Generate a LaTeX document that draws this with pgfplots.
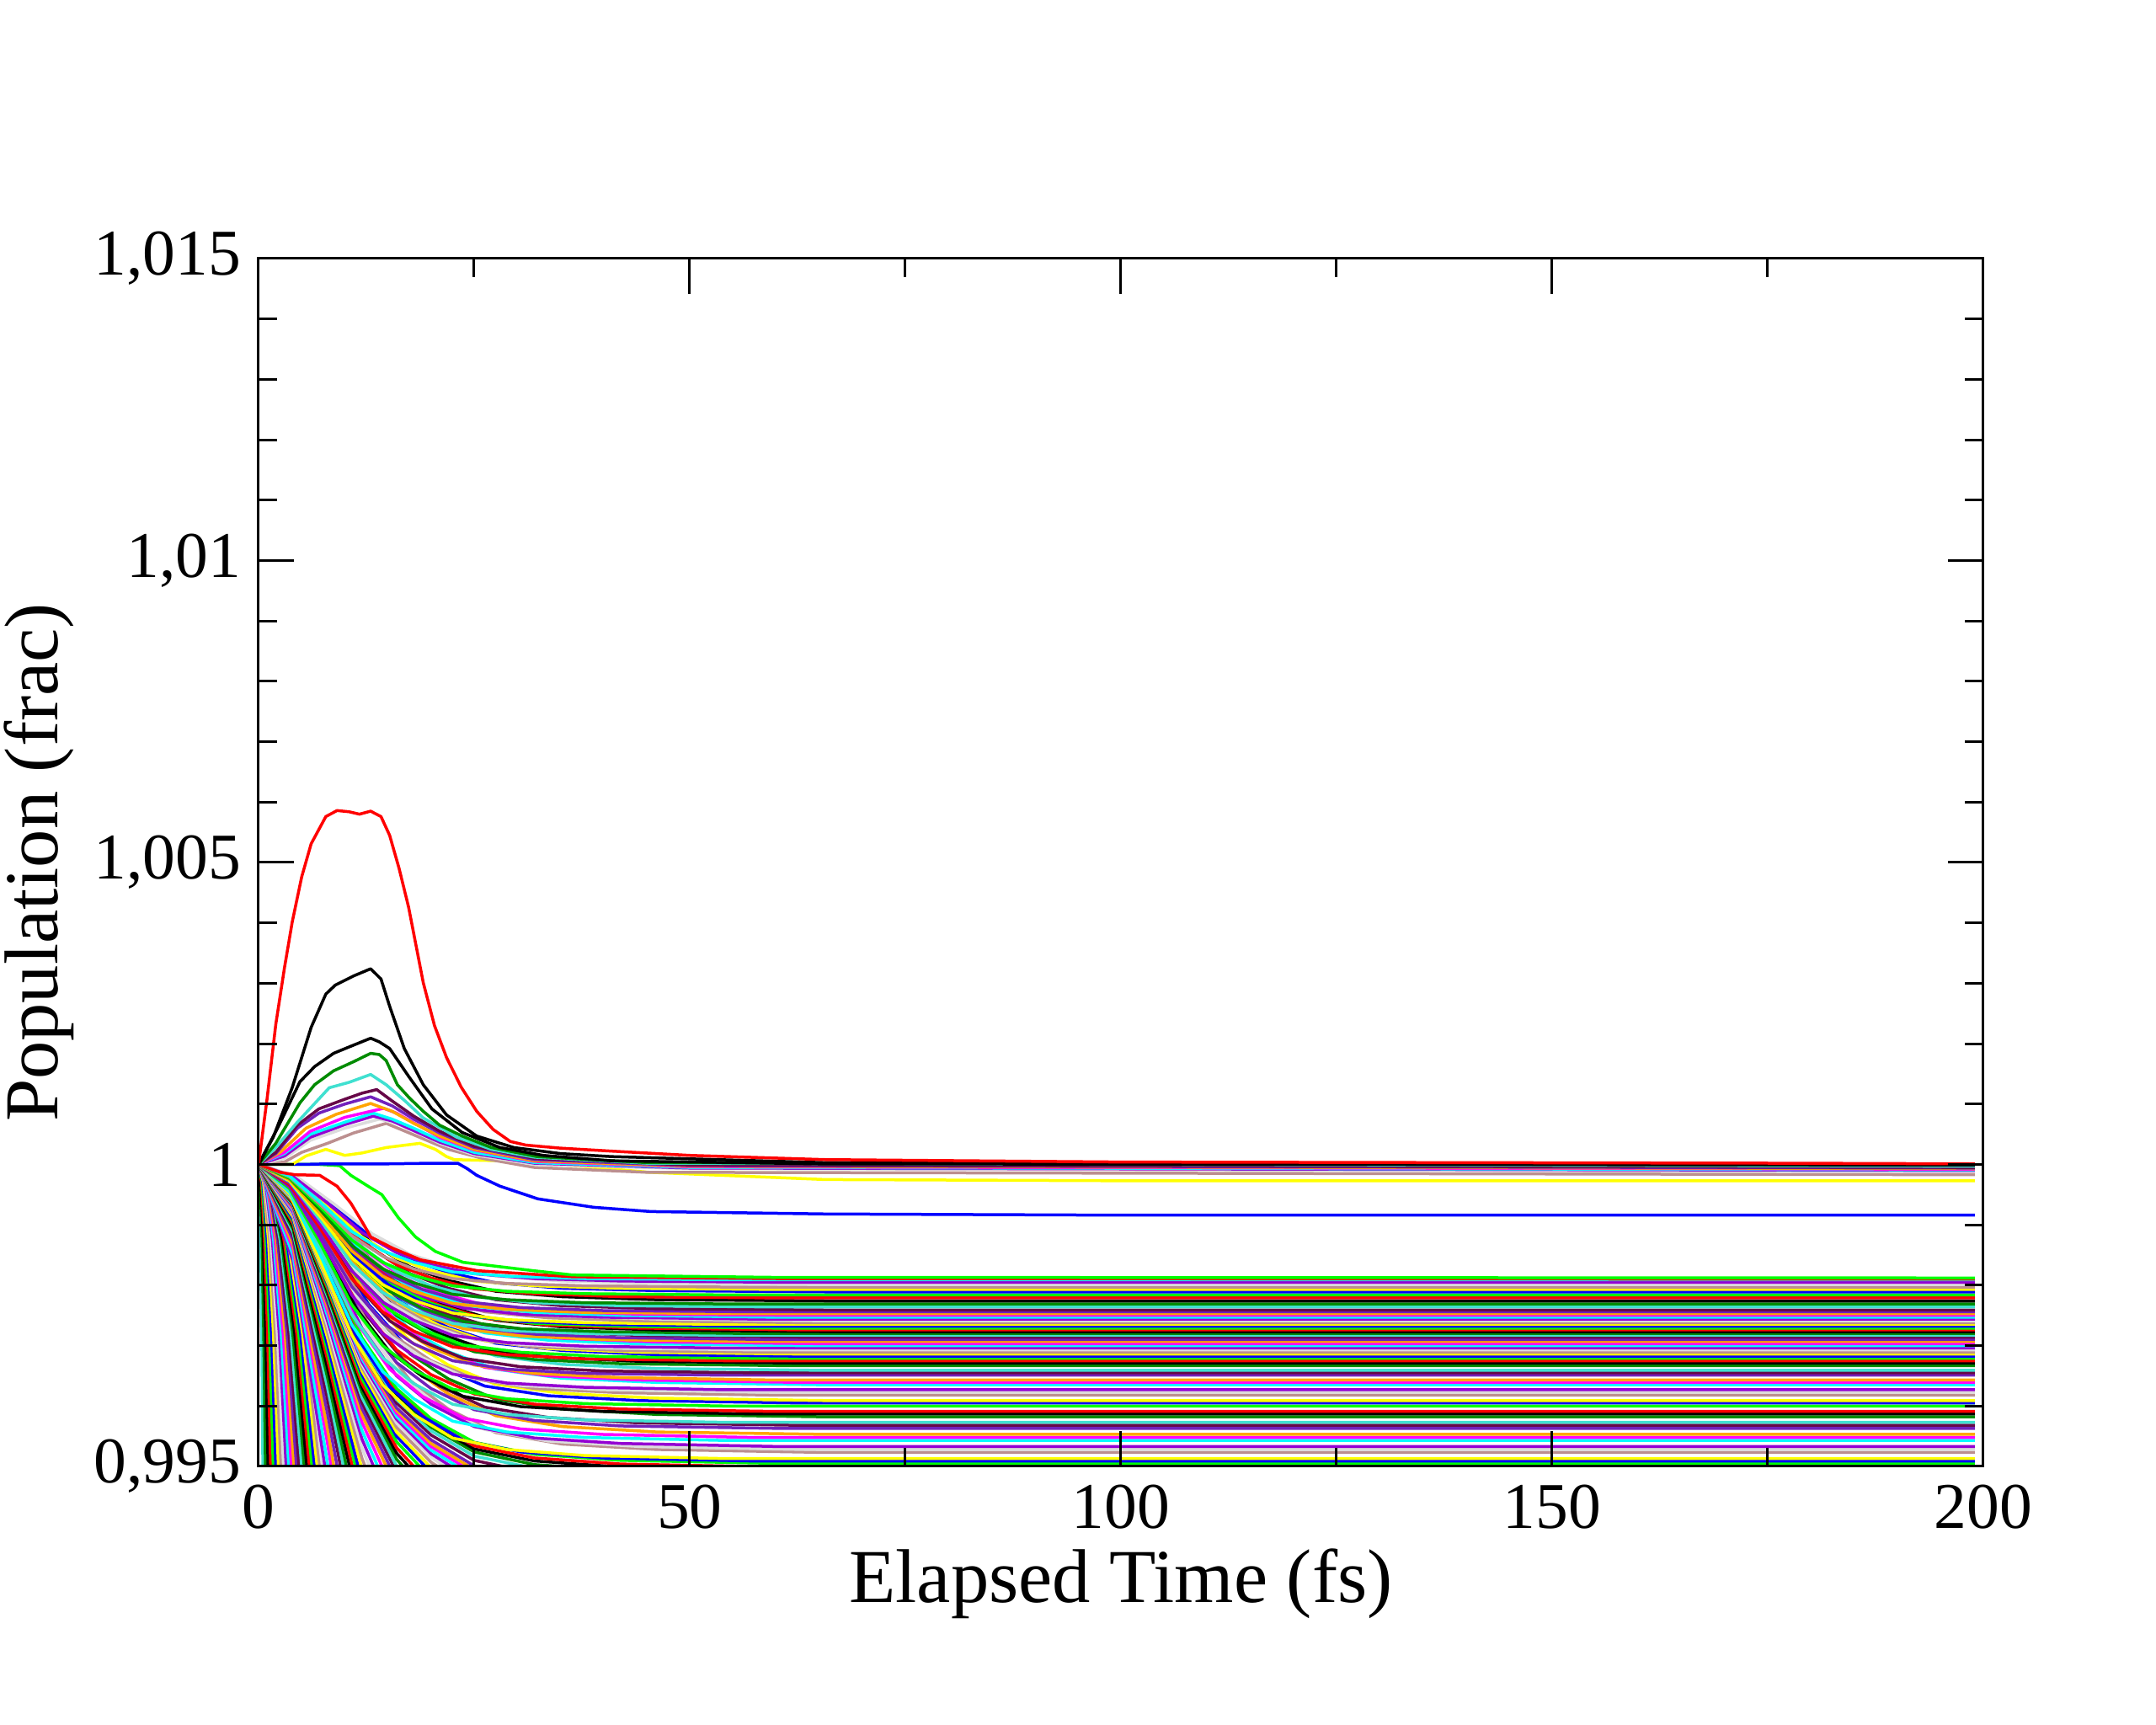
\documentclass[border=0pt]{standalone}
\usepackage{fontspec}
\setmainfont{Liberation Serif}
\usepackage{pgfplots}
\pgfplotsset{compat=1.18}
\usepackage{pgfplotstable}

\definecolor{gblack}{RGB}{0,0,0}
\definecolor{gred}{RGB}{255,0,0}
\definecolor{ggreen}{RGB}{0,255,0}
\definecolor{gblue}{RGB}{0,0,255}
\definecolor{gyellow}{RGB}{255,255,0}
\definecolor{gbrown}{RGB}{188,143,143}
\definecolor{ggrey}{RGB}{220,220,220}
\definecolor{gviolet}{RGB}{148,0,211}
\definecolor{gcyan}{RGB}{0,255,255}
\definecolor{gmagenta}{RGB}{255,0,255}
\definecolor{gorange}{RGB}{255,165,0}
\definecolor{gindigo}{RGB}{114,33,188}
\definecolor{gmaroon}{RGB}{103,7,72}
\definecolor{gturq}{RGB}{64,224,208}
\definecolor{ggreenf}{RGB}{0,139,0}

\pgfplotscreateplotcyclelist{grace}{
{gblack},{gred},{ggreen},{gblue},{gyellow},{gbrown},{ggrey},{gviolet},{gcyan},{gmagenta},{gorange},{gindigo},{gmaroon},{gturq},{ggreenf}}

\pgfplotstableread{
x d191 d203 d216 d231 d247 d265 d283 d304 d325 d349 d373 d400 d427 d457 d487
0 1 1 1 1 1 1 1 1 1 1 1 1 1 1 1
3.6 .99981 .99980 .99978 .99977 .99975 .99973 .99972 .99970 .99967 .99965 .99963 .99960 .99957 .99954 .99951
7.2 .99937 .99933 .99929 .99924 .99918 .99913 .99907 .99900 .99893 .99885 .99877 .99868 .99859 .99849 .99839
10.8 .99889 .99882 .99875 .99866 .99857 .99846 .99836 .99824 .99811 .99798 .99784 .99768 .99752 .99735 .99718
14.4 .99857 .99848 .99838 .99827 .99815 .99801 .99788 .99772 .99756 .99738 .99720 .99700 .99680 .99657 .99635
18 .99838 .99827 .99816 .99804 .99790 .99775 .99759 .99742 .99724 .99703 .99683 .99660 .99637 .99612 .99586
22.5 .99822 .99811 .99799 .99785 .99770 .99754 .99737 .99717 .99698 .99675 .99653 .99628 .99603 .99575 .99547
28.8 .99815 .99803 .99790 .99776 .99760 .99743 .99725 .99705 .99685 .99661 .99638 .99612 .99586 .99557 .99528
37.8 .99811 .99799 .99786 .99771 .99755 .99738 .99720 .99699 .99678 .99654 .99631 .99604 .99577 .99548 .99518
54 .99809 .99797 .99784 .99769 .99753 .99735 .99717 .99696 .99675 .99651 .99627 .99600 .99573 .99543 .99513
199 .99809 .99797 .99784 .99769 .99753 .99735 .99717 .99696 .99675 .99651 .99627 .99600 .99573 .99543 .99513
}\tA
\pgfplotstableread{
x d195 d207 d221 d236 d253 d271 d290 d311 d333 d357 d382 d409 d437 d467 d495
0 1 1 1 1 1 1 1 1 1 1 1 1 1 1 1
4 .99980 .99979 .99978 .99976 .99975 .99973 .99971 .99969 .99967 .99964 .99962 .99959 .99956 .99953 .99950
8 .99936 .99932 .99927 .99922 .99917 .99911 .99904 .99897 .99890 .99882 .99874 .99865 .99856 .99846 .99837
12 .99887 .99880 .99872 .99863 .99853 .99843 .99832 .99820 .99807 .99793 .99778 .99763 .99747 .99729 .99713
16 .99854 .99845 .99834 .99823 .99810 .99797 .99782 .99767 .99750 .99732 .99713 .99693 .99672 .99650 .99629
20 .99834 .99824 .99812 .99799 .99785 .99770 .99753 .99736 .99717 .99697 .99675 .99652 .99629 .99603 .99579
25 .99819 .99807 .99794 .99781 .99765 .99748 .99730 .99711 .99690 .99668 .99645 .99620 .99594 .99566 .99540
32 .99811 .99799 .99786 .99771 .99755 .99737 .99719 .99698 .99677 .99654 .99629 .99603 .99576 .99547 .99520
42 .99807 .99795 .99781 .99766 .99750 .99732 .99713 .99692 .99670 .99647 .99622 .99595 .99567 .99538 .99510
60 .99805 .99793 .99779 .99764 .99747 .99729 .99710 .99689 .99667 .99643 .99618 .99591 .99563 .99533 .99505
199 .99805 .99793 .99779 .99764 .99747 .99729 .99710 .99689 .99667 .99643 .99618 .99591 .99563 .99533 .99505
}\tB
\pgfplotstableread{
x d199 d211 d226 d241 d259 d277 d297 d318 d341 d365 d391 d418 d447 d477
0 1 1 1 1 1 1 1 1 1 1 1 1 1 1
4.4 .99980 .99979 .99977 .99976 .99974 .99972 .99970 .99968 .99966 .99963 .99961 .99958 .99955 .99952
8.8 .99934 .99930 .99925 .99920 .99915 .99909 .99902 .99895 .99887 .99880 .99871 .99862 .99852 .99843
13.2 .99885 .99878 .99869 .99860 .99850 .99839 .99828 .99816 .99802 .99788 .99773 .99758 .99741 .99723
17.6 .99851 .99842 .99830 .99819 .99806 .99792 .99777 .99761 .99744 .99726 .99707 .99686 .99665 .99642
22 .99831 .99821 .99808 .99795 .99780 .99765 .99748 .99730 .99710 .99690 .99668 .99645 .99620 .99595
27.5 .99815 .99804 .99790 .99776 .99759 .99742 .99724 .99704 .99683 .99661 .99636 .99611 .99584 .99556
35.2 .99807 .99795 .99781 .99766 .99749 .99731 .99712 .99692 .99669 .99646 .99621 .99595 .99566 .99537
46.2 .99803 .99791 .99776 .99761 .99744 .99726 .99706 .99685 .99662 .99639 .99613 .99586 .99557 .99528
66 .99801 .99789 .99774 .99759 .99741 .99723 .99703 .99682 .99659 .99635 .99609 .99582 .99553 .99523
199 .99801 .99789 .99774 .99759 .99741 .99723 .99703 .99682 .99659 .99635 .99609 .99582 .99553 .99523
}\tC
\pgfplotstableread{
x d244 d256 d268 d280 d293 d307 d321 d345 d377 d413 d452 d491
0 1 1 1 1 1 1 1 1 1 1 1 1
3.8 .99976 .99974 .99973 .99972 .99971 .99969 .99968 .99965 .99962 .99959 .99955 .99951
7.6 .99919 .99916 .99912 .99908 .99903 .99899 .99894 .99886 .99876 .99864 .99851 .99838
11.4 .99858 .99852 .99845 .99838 .99830 .99822 .99814 .99800 .99781 .99760 .99738 .99715
15.2 .99817 .99808 .99799 .99790 .99780 .99770 .99759 .99741 .99717 .99690 .99661 .99632
19 .99793 .99782 .99772 .99762 .99751 .99739 .99727 .99707 .99680 .99649 .99616 .99583
23.75 .99773 .99762 .99751 .99740 .99728 .99714 .99701 .99679 .99649 .99616 .99580 .99543
30.4 .99763 .99752 .99740 .99728 .99716 .99702 .99689 .99665 .99634 .99599 .99562 .99524
39.9 .99758 .99747 .99735 .99723 .99710 .99696 .99682 .99658 .99627 .99591 .99553 .99514
57 .99756 .99744 .99732 .99720 .99707 .99693 .99679 .99655 .99623 .99587 .99548 .99509
199 .99756 .99744 .99732 .99720 .99707 .99693 .99679 .99655 .99623 .99587 .99548 .99509
}\tD
\pgfplotstableread{
x d250 d262 d274 d286 d300 d314 d329 d361 d395 d432 d472
0 1 1 1 1 1 1 1 1 1 1 1
4.2 .99975 .99974 .99973 .99971 .99970 .99969 .99967 .99964 .99960 .99957 .99953
8.4 .99917 .99914 .99910 .99906 .99901 .99896 .99891 .99881 .99870 .99857 .99844
12.6 .99855 .99848 .99841 .99834 .99826 .99818 .99809 .99791 .99771 .99749 .99726
16.8 .99812 .99803 .99794 .99785 .99775 .99764 .99753 .99729 .99704 .99676 .99646
21 .99787 .99777 .99767 .99757 .99745 .99733 .99720 .99693 .99664 .99633 .99599
26.25 .99767 .99756 .99745 .99734 .99721 .99708 .99694 .99664 .99633 .99598 .99561
33.6 .99757 .99746 .99734 .99723 .99709 .99695 .99681 .99650 .99617 .99581 .99542
44.1 .99752 .99741 .99729 .99717 .99703 .99689 .99674 .99643 .99609 .99572 .99533
63 .99750 .99738 .99726 .99714 .99700 .99686 .99671 .99639 .99605 .99568 .99528
199 .99750 .99738 .99726 .99714 .99700 .99686 .99671 .99639 .99605 .99568 .99528
}\tE

\newcommand{\bA}[1]{\addplot table[x=x,y=d#1]{\tA};}
\newcommand{\bB}[1]{\addplot table[x=x,y=d#1]{\tB};}
\newcommand{\bC}[1]{\addplot table[x=x,y=d#1]{\tC};}
\newcommand{\bD}[1]{\addplot table[x=x,y=d#1]{\tD};}
\newcommand{\bE}[1]{\addplot table[x=x,y=d#1]{\tE};}
\newcommand{\fan}[5]{\addplot coordinates {(0,1)(#1,0.9997)(#2,0.99875)(#3,0.9972)(#4,0.995)(#5,0.9932)};}

\begin{document}
\begin{tikzpicture}
\path[use as bounding box] (-61.4pt,-61.4pt) rectangle (450.6pt,348.2pt);
\begin{axis}[
  at={(0pt,0pt)}, anchor=south west,
  scale only axis, width=409.6pt, height=286.8pt,
  xmin=0, xmax=200, ymin=0.995, ymax=1.015,
  xtick={0,50,100,150,200}, xticklabels={0,50,100,150,200},
  ytick={0.995,1,1.005,1.01,1.015},
  yticklabels={{0,995},{1},{1,005},{1,01},{1,015}},
  minor x tick num=1, minor y tick num=4,
  tick align=inside,
  major tick length=8.4pt, minor tick length=4.4pt,
  every tick/.style={black, line width=0.6pt},
  axis line style={line width=0.6pt},
  axis on top,
  tick label style={font=\fontsize{15.5}{18}\selectfont},
  xticklabel style={inner sep=0pt, yshift=-4.2pt},
  yticklabel style={inner sep=0pt, xshift=-4pt},
  label style={font=\fontsize{18.1}{22}\selectfont},
  xlabel={Elapsed Time (fs)},
  ylabel={Population (frac)},
  xlabel style={at={(axis description cs:0.5,-0.1123)}, anchor=base},
  ylabel style={at={(axis description cs:-0.1274,0.5)}, anchor=center},
  cycle list name=grace,
  cycle list shift=13,
  no markers,
  every axis plot/.append style={line width=0.7pt, line join=round},
]
% steep fan
\fan{0.125}{0.25}{0.375}{0.5}{0.6}
\fan{0.2}{0.4}{0.6}{0.8}{0.96}
\fan{0.275}{0.55}{0.825}{1.1}{1.32}
\fan{0.35}{0.7}{1.05}{1.4}{1.68}
\fan{0.425}{0.85}{1.275}{1.7}{2.04}
\fan{0.5}{1}{1.5}{2}{2.4}
\fan{0.575}{1.15}{1.725}{2.3}{2.76}
\fan{0.65}{1.3}{1.95}{2.6}{3.12}
\fan{0.725}{1.45}{2.175}{2.9}{3.48}
\fan{0.8}{1.6}{2.4}{3.2}{3.84}
\fan{0.875}{1.75}{2.625}{3.5}{4.2}
\fan{0.95}{1.9}{2.85}{3.8}{4.56}
\fan{1.025}{2.05}{3.075}{4.1}{4.92}
\fan{1.1}{2.2}{3.3}{4.4}{5.28}
\fan{1.175}{2.35}{3.525}{4.7}{5.64}
\fan{1.25}{2.5}{3.75}{5}{6}
\fan{1.325}{2.65}{3.975}{5.3}{6.36}
\fan{1.4}{2.8}{4.2}{5.6}{6.72}
\fan{1.475}{2.95}{4.425}{5.9}{7.08}
\fan{1.55}{3.1}{4.65}{6.2}{7.44}
\fan{1.625}{3.25}{4.875}{6.5}{7.8}
\fan{1.7}{3.4}{5.1}{6.8}{8.16}
\fan{1.775}{3.55}{5.325}{7.1}{8.52}
\fan{1.85}{3.7}{5.55}{7.4}{8.88}
% steep curves leaving through the bottom
\addplot coordinates {(0,1)(4,0.9984)(8,0.99472)};
\addplot coordinates {(0,1)(4,0.9985)(8,0.99505)(12,0.9913)};
\addplot coordinates {(0,1)(4,0.9986)(8,0.99538)(12,0.99188)};
\addplot coordinates {(0,1)(4,0.99867)(8,0.99561)(12,0.99229)};
\addplot coordinates {(0,1)(4,0.99875)(8,0.99587)(12,0.99275)};
\addplot coordinates {(0,1)(4,0.99882)(8,0.99611)(12,0.99316)};
\addplot coordinates {(0,1)(4,0.99888)(8,0.9963)(12,0.9935)};
\addplot coordinates {(0,1)(4,0.99893)(8,0.99647)(12,0.99379)};
\addplot coordinates {(0,1)(4,0.99898)(8,0.99663)(12,0.99408)};
\addplot coordinates {(0,1)(4,0.99902)(8,0.99677)(12,0.99432)};
\addplot coordinates {(0,1)(4,0.99906)(8,0.9969)(12,0.99455)};
\addplot coordinates {(0,1)(4,0.99909)(8,0.99701)(12,0.99475)};
\addplot coordinates {(0,1)(4,0.99913)(8,0.99713)(12,0.99495)};
\addplot coordinates {(0,1)(4,0.99916)(8,0.99723)(12,0.99513)(16,0.9937)};
\addplot coordinates {(0,1)(4,0.99919)(8,0.99733)(12,0.9953)(16,0.99392)};
\addplot coordinates {(0,1)(4,0.99921)(8,0.99741)(12,0.99545)(16,0.99411)};
\addplot coordinates {(0,1)(4,0.99924)(8,0.99749)(12,0.99559)(16,0.9943)};
\addplot coordinates {(0,1)(4,0.99926)(8,0.99757)(12,0.99573)(16,0.99447)};
\addplot coordinates {(0,1)(4,0.99928)(8,0.99764)(12,0.99585)(16,0.99464)};
\addplot coordinates {(0,1)(4,0.9993)(8,0.9977)(12,0.99596)(16,0.99477)};
\addplot coordinates {(0,1)(4,0.99932)(8,0.99776)(12,0.99606)(16,0.9949)};
\addplot coordinates {(0,1)(4,0.99933)(8,0.99781)(12,0.99614)(16,0.99501)(20,0.99435)};
\addplot coordinates {(0,1)(4,0.99935)(8,0.99785)(12,0.99623)(16,0.99512)(20,0.99447)};
\addplot coordinates {(0,1)(4,0.99936)(8,0.9979)(12,0.99631)(16,0.99522)(20,0.99459)};
\addplot coordinates {(0,1)(4,0.99937)(8,0.99794)(12,0.99637)(16,0.99531)(20,0.99469)};
\addplot coordinates {(0,1)(4,0.99939)(8,0.99798)(12,0.99645)(16,0.99541)(20,0.9948)};
\addplot coordinates {(0,1)(4,0.9994)(8,0.99802)(12,0.99652)(16,0.9955)(20,0.9949)};
\addplot coordinates {(0,1)(4,0.99941)(8,0.99805)(12,0.99658)(16,0.99557)(20,0.99498)(25,0.99451)};
\addplot coordinates {(0,1)(4,0.99942)(8,0.99809)(12,0.99664)(16,0.99565)(20,0.99507)(25,0.99461)};
\addplot coordinates {(0,1)(4,0.99943)(8,0.99812)(12,0.99669)(16,0.99572)(20,0.99515)(25,0.99469)};
\addplot coordinates {(0,1)(4,0.99944)(8,0.99814)(12,0.99673)(16,0.99578)(20,0.99521)(25,0.99476)};
\addplot coordinates {(0,1)(4,0.99944)(8,0.99817)(12,0.99678)(16,0.99583)(20,0.99527)(25,0.99483)};
\addplot coordinates {(0,1)(4,0.99945)(8,0.99819)(12,0.99682)(16,0.99588)(20,0.99533)(25,0.99489)(32,0.99467)};
\addplot coordinates {(0,1)(4,0.99946)(8,0.99821)(12,0.99685)(16,0.99593)(20,0.99538)(25,0.99495)(32,0.99473)};
\addplot coordinates {(0,1)(4,0.99946)(8,0.99823)(12,0.99689)(16,0.99597)(20,0.99544)(25,0.99501)(32,0.99479)};
\addplot coordinates {(0,1)(4,0.99947)(8,0.99826)(12,0.99694)(16,0.99605)(20,0.99552)(25,0.9951)(32,0.99489)(42,0.99478)};
\addplot coordinates {(0,1)(4,0.99948)(8,0.99829)(12,0.99699)(16,0.99611)(20,0.99559)(25,0.99517)(32,0.99497)(42,0.99486)};
\addplot coordinates {(0,1)(4,0.99949)(8,0.99831)(12,0.99703)(16,0.99616)(20,0.99565)(25,0.99524)(32,0.99503)(42,0.99493)(60,0.99488)(199,0.99488)};
\addplot coordinates {(0,1)(4,0.99949)(8,0.99833)(12,0.99707)(16,0.9962)(20,0.9957)(25,0.99529)(32,0.99509)(42,0.99499)(60,0.99494)(199,0.99494)};
\addplot coordinates {(0,1)(4,0.9995)(8,0.99835)(12,0.99709)(16,0.99624)(20,0.99574)(25,0.99534)(32,0.99514)(42,0.99504)(60,0.99499)(199,0.99499)};
% band of curves with visible plateaus, lowest first
\bB{495}\bD{491}\bA{487}\bC{477}\bE{472}\bB{467}\bA{457}\bD{452}\bC{447}\bB{437}
\bE{432}\bA{427}\bC{418}\bD{413}\bB{409}\bA{400}\bE{395}\bC{391}\bB{382}\bD{377}
\bA{373}\bC{365}\bE{361}\bB{357}\bA{349}\bD{345}\bC{341}\bB{333}\bE{329}\bA{325}
\bD{321}\bC{318}\bE{314}\bB{311}\bD{307}\bA{304}\bE{300}\bC{297}\bD{293}\bB{290}
\bE{286}\bA{283}\bD{280}\bC{277}\bE{274}\bB{271}\bD{268}\bA{265}\bE{262}\bC{259}
\bD{256}\bB{253}\bE{250}\bA{247}\bD{244}\bC{241}\bB{236}\bA{231}\bC{226}\bB{221}
\bA{216}\bC{211}\bB{207}\bA{203}\bC{199}\bB{195}\bA{191}
% lower red and lime
\addplot[gred] coordinates {(0,1)(2.5,0.99987)(4.2,0.99983)(7.1,0.99982)(9.1,0.99964)(10.7,0.99936)(12.3,0.99898)(13,0.9988)(15.6,0.99861)(18.8,0.99842)(25.4,0.99824)(36.4,0.99814)(60,0.99811)(199,0.9981)};
\addplot[ggreen] coordinates {(0,1)(7.1,1.0)(9.4,0.99998)(10.7,0.99982)(12.7,0.99964)(14.3,0.9995)(16.2,0.99912)(18.2,0.9988)(20.5,0.99856)(23.7,0.99838)(31.9,0.99824)(36.4,0.99817)(60,0.99813)(199,0.99812)};
% blue and yellow
\addplot[gblue] coordinates {(0,1)(5,1.0)(8,1.00001)(15,1.00001)(20,1.00002)(23.1,1.00002)(24.2,0.99993)(25.3,0.99982)(28,0.99964)(32.4,0.99943)(38.9,0.99929)(45.5,0.99922)(65.7,0.99918)(100,0.99916)(199,0.99916)};
\addplot[gyellow] coordinates {(0,1)(3.9,1.0)(5.5,1.00014)(7.8,1.00025)(10,1.00015)(12,1.00019)(14.8,1.00028)(18.7,1.00035)(20.5,1.00025)(21.8,1.00013)(22.7,1.00008)(28.2,1.00006)(35,1.0)(45.3,0.99987)(65.7,0.99975)(100,0.99973)(199,0.99973)};
% rising curves
\addplot[gbrown] coordinates {(0,1)(3,1.00004)(5,1.0002)(8,1.00035)(11,1.00052)(14.8,1.00068)(17,1.00055)(19.5,1.0004)(22,1.00025)(26,1.0001)(32,0.99995)(45,0.99987)(199,0.99983)};
\addplot[ggrey] coordinates {(0,1)(3,1.0001)(6,1.0004)(10,1.0006)(14,1.00075)(16,1.00068)(18.5,1.00052)(21,1.00035)(25,1.00016)(32,1.0)(50,0.99993)(199,0.99988)};
\addplot[gviolet] coordinates {(0,1)(3,1.00014)(6,1.00045)(10,1.00066)(13.3,1.0008)(15.5,1.00072)(18,1.00056)(21,1.00037)(25,1.00018)(32,1.00002)(50,0.99994)(199,0.9999)};
\addplot[gcyan] coordinates {(0,1)(3,1.00018)(6,1.0005)(10,1.0007)(13.3,1.00085)(15.5,1.00075)(18,1.0006)(21,1.0004)(25,1.0002)(32,1.00003)(50,0.99995)(199,0.99991)};
\addplot[gmagenta] coordinates {(0,1)(3,1.0002)(6,1.00055)(10,1.00078)(14.5,1.00093)(16,1.00085)(18.5,1.00065)(21,1.00045)(25,1.00024)(32,1.00005)(50,0.99996)(199,0.99992)};
\addplot[gorange] coordinates {(0,1)(2.5,1.0002)(5.5,1.0006)(9,1.00083)(13,1.00101)(15.5,1.00088)(18,1.00068)(21,1.00047)(25,1.00025)(32,1.00006)(50,0.99997)(199,0.99993)};
\addplot[gindigo] coordinates {(0,1)(2,1.00018)(4.5,1.0006)(7,1.00085)(10,1.001)(13,1.00112)(15.5,1.00097)(18,1.00075)(21,1.00052)(25,1.00028)(32,1.00008)(50,0.99998)(199,0.99994)};
\addplot[gmaroon] coordinates {(0,1)(2,1.0002)(4.5,1.00065)(7,1.00092)(10,1.00108)(12,1.00118)(13.7,1.00124)(15.5,1.00105)(18,1.0008)(21,1.00055)(25,1.0003)(32,1.0001)(50,0.99999)(199,0.99995)};
\addplot[gturq] coordinates {(0,1)(2,1.00028)(4.5,1.0007)(8.2,1.00127)(10.5,1.00136)(13,1.00149)(14.8,1.00132)(17,1.00105)(19.1,1.00077)(23,1.00045)(27,1.00025)(32,1.00012)(45,1.00002)(199,0.99997)};
\addplot[ggreenf] coordinates {(0,1)(2,1.00035)(4.8,1.00102)(6.5,1.00132)(8.7,1.00155)(11,1.0017)(13,1.00184)(14,1.00182)(14.8,1.00172)(16.1,1.00132)(17.5,1.0011)(19.1,1.00088)(21,1.00065)(23.6,1.00047)(27,1.00028)(32.3,1.00013)(45,1.00003)(199,0.99999)};
\addplot[gblack] coordinates {(0,1)(2.2,1.0006)(4.8,1.00137)(6.5,1.00162)(8.7,1.00184)(10.4,1.00194)(13,1.00209)(14,1.00203)(15.2,1.00192)(17.4,1.00146)(20.1,1.00092)(23.6,1.00053)(28,1.00028)(33,1.00015)(40.9,1.00006)(65,1.00001)(199,0.99999)};
\addplot[gblack] coordinates {(0,1)(1.7,1.00045)(3.9,1.00127)(6.1,1.00227)(7.8,1.00282)(8.9,1.00297)(11,1.00312)(13,1.00324)(14.2,1.00307)(15.2,1.00262)(16.9,1.00192)(19.1,1.00132)(21.8,1.00082)(25.3,1.00047)(29.6,1.00028)(35,1.00018)(40.9,1.00013)(65.7,1.00003)(100,1.00001)(199,1.0)};
\addplot[gred] coordinates {(0,1)(1,1.0011)(2,1.00232)(3,1.00325)(3.9,1.00401)(5,1.00476)(6.1,1.00531)(7.8,1.00576)(9.1,1.00586)(10.5,1.00584)(11.7,1.0058)(13,1.00585)(14.2,1.00576)(15.2,1.00545)(16.3,1.0049)(17.4,1.00426)(19.1,1.00301)(20.4,1.0023)(21.8,1.00177)(23.5,1.00128)(25.3,1.00088)(27.2,1.00058)(29.2,1.00038)(31,1.00032)(35,1.00027)(41,1.00022)(50,1.00015)(65.7,1.00008)(100,1.00004)(178,1.00002)(199,1.00001)};
\end{axis}
\end{tikzpicture}
\end{document}
